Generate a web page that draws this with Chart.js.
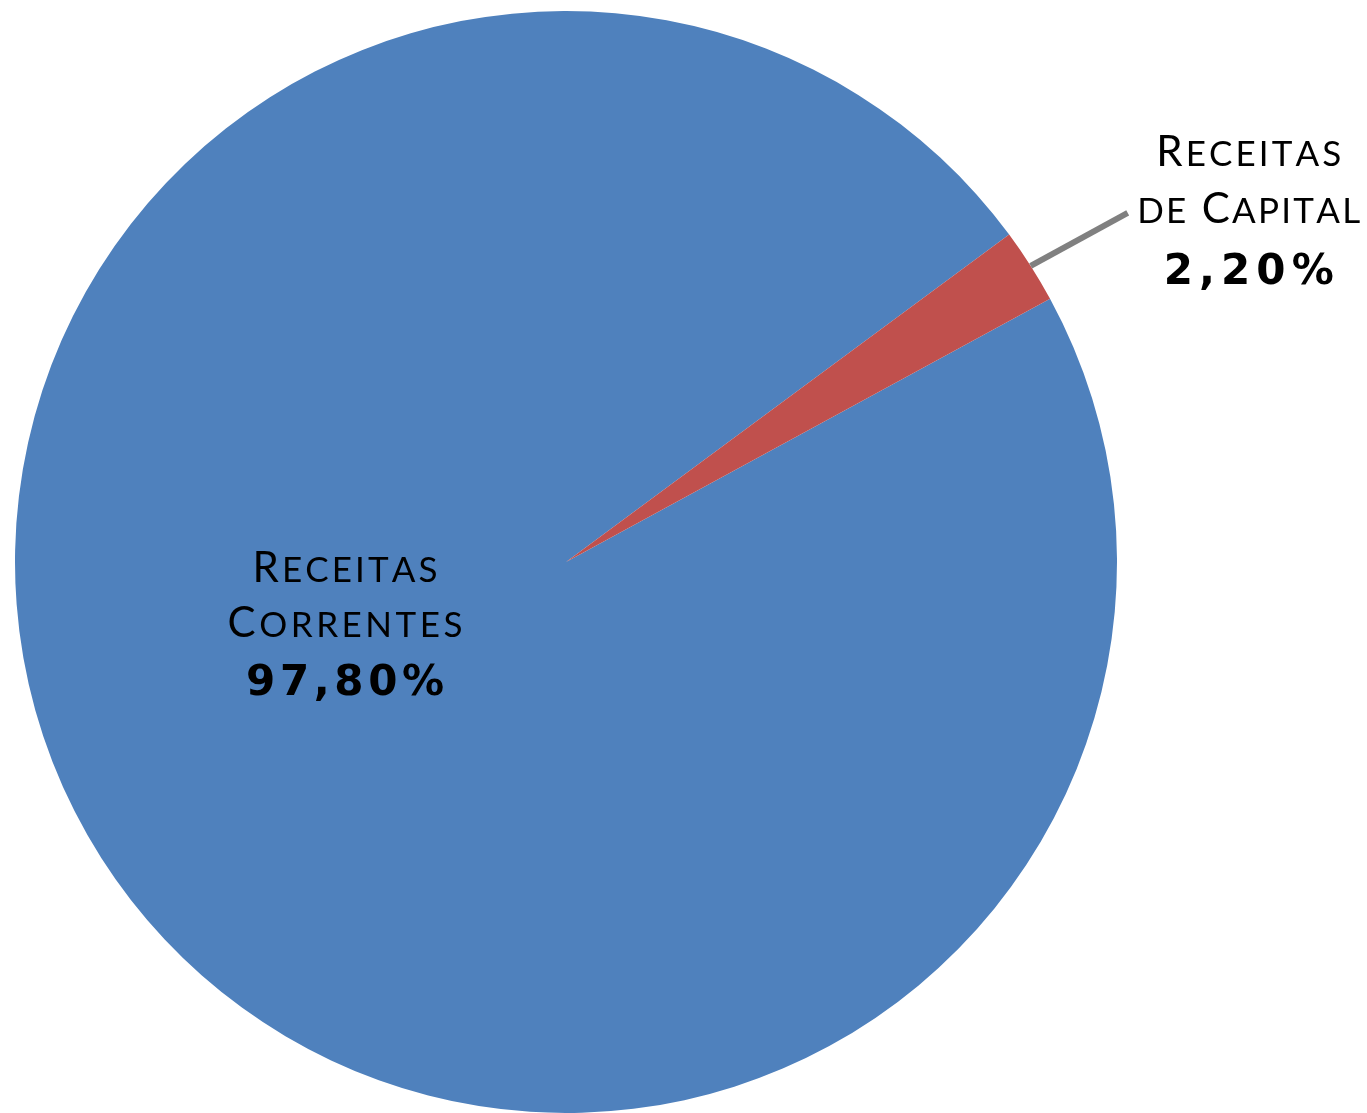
<!DOCTYPE html>
<html>
<head>
<meta charset="utf-8">
<title>Receitas</title>
<script src="https://cdn.jsdelivr.net/npm/chart.js@4/dist/chart.umd.min.js"></script>
<style>
  html, body { margin: 0; padding: 0; background: #ffffff; }
  #wrap { width: 1367px; height: 1113px; }
</style>
</head>
<body>
<div id="wrap"><canvas id="c" width="1367" height="1113"></canvas></div>
<script>
// ---- data ----
const categories = ['Receitas Correntes', 'Receitas de Capital'];
const values = [97.8, 2.2];
const labelLines = [['Receitas', 'Correntes'], ['Receitas', 'de Capital']];

const sliceColors = ['#4F81BD', '#C0504D'];
const FONT = 'Lato, "Open Sans", "DejaVu Sans", sans-serif';
const NUM_FONT = '"DejaVu Sans", Lato, sans-serif';

function pctText(v) {
  return v.toFixed(2).replace('.', ',') + '%';
}

// draw text char by char, small caps emulated, stretched to a target width
function drawFitted(ctx, text, cx, baseline, target, opts) {
  const fam = opts.family || FONT;
  const parts = [];
  for (const ch of text) {
    if (opts.smallCaps) {
      const isLower = ch !== ch.toUpperCase();
      parts.push({ ch: ch.toUpperCase(), font: (opts.weight || 400) + ' ' + (isLower ? opts.sc : opts.cap) + 'px ' + fam });
    } else {
      parts.push({ ch: ch, font: (opts.weight || 400) + ' ' + opts.cap + 'px ' + fam });
    }
  }
  let natural = 0;
  for (const p of parts) { ctx.font = p.font; p.w = ctx.measureText(p.ch).width; natural += p.w; }
  const gap = parts.length > 1 ? (target - natural) / (parts.length - 1) : 0;
  let x = cx - target / 2;
  ctx.textBaseline = 'alphabetic';
  ctx.textAlign = 'left';
  for (const p of parts) {
    ctx.font = p.font;
    ctx.fillText(p.ch, x, baseline);
    x += p.w + gap;
  }
}

const labelPlugin = {
  id: 'sliceLabels',
  afterDatasetsDraw(chart) {
    const ctx = chart.ctx;
    const meta = chart.getDatasetMeta(0);
    ctx.save();
    ctx.fillStyle = '#000000';

    // Slice 0 label: inside the pie
    const a0 = meta.data[0];
    const cx0 = a0.x - 0.401 * a0.outerRadius;
    const by0 = a0.y;
    drawFitted(ctx, labelLines[0][0], cx0, by0 + 20, 185, { smallCaps: true, cap: 42, sc: 35 });
    drawFitted(ctx, labelLines[0][1], cx0, by0 + 75, 235, { smallCaps: true, cap: 42, sc: 35 });
    drawFitted(ctx, pctText(values[0]), cx0, by0 + 133, 198, { cap: 42, weight: 700, family: NUM_FONT });

    // Slice 1 label: outside with leader line
    const a1 = meta.data[1];
    const mid = (a1.startAngle + a1.endAngle) / 2;
    const p0x = a1.x + a1.outerRadius * Math.cos(mid);
    const p0y = a1.y + a1.outerRadius * Math.sin(mid);
    const p1x = p0x + 97, p1y = p0y - 53;
    ctx.strokeStyle = '#808080';
    ctx.lineWidth = 6;
    ctx.lineCap = 'butt';
    ctx.beginPath();
    ctx.moveTo(p0x, p0y);
    ctx.lineTo(p1x, p1y);
    ctx.stroke();

    const cx1 = p1x + 121;
    drawFitted(ctx, labelLines[1][0], cx1, p1y - 47, 185, { smallCaps: true, cap: 42, sc: 35 });
    drawFitted(ctx, labelLines[1][1], cx1, p1y + 10, 223, { smallCaps: true, cap: 42, sc: 35 });
    drawFitted(ctx, pctText(values[1]), cx1, p1y + 71, 170, { cap: 42, weight: 700, family: NUM_FONT });
    ctx.restore();
  }
};

new Chart(document.getElementById('c'), {
  type: 'pie',
  data: {
    labels: categories,
    datasets: [{
      data: values,
      backgroundColor: sliceColors,
      borderWidth: 0,
      hoverOffset: 0
    }]
  },
  options: {
    responsive: false,
    animation: false,
    devicePixelRatio: 1,
    rotation: 61.46,
    layout: { padding: { left: 14, top: 11, right: 249, bottom: 0 } },
    events: [],
    plugins: {
      legend: { display: false },
      tooltip: { enabled: false },
      title: { display: false }
    }
  },
  plugins: [labelPlugin]
});
</script>
</body>
</html>
